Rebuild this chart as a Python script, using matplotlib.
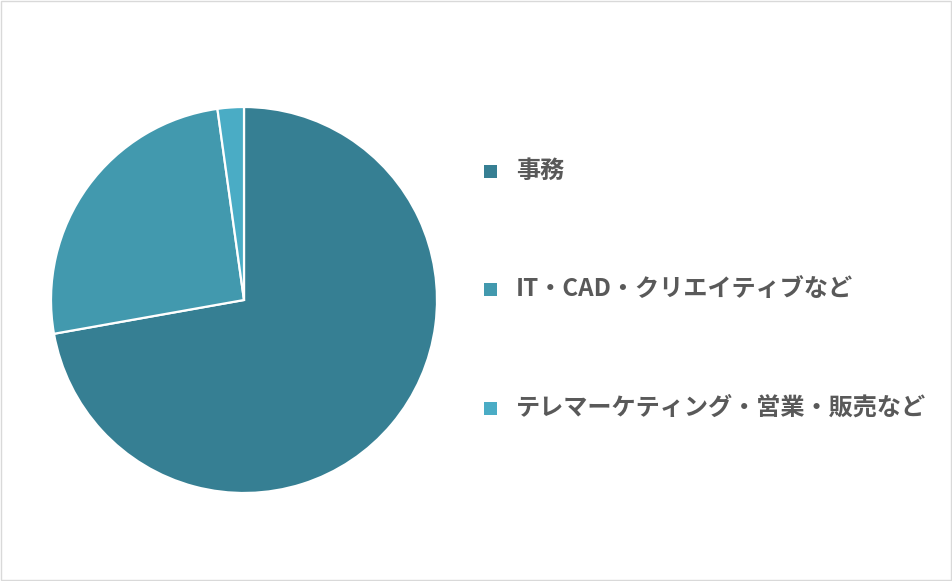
import matplotlib.pyplot as plt
import matplotlib.patches as mpatches

plt.rcParams['font.family'] = ['Noto Sans CJK JP', 'DejaVu Sans']

# 職種別の割合 (%)
labels = ['事務', 'IT・CAD・クリエイティブなど', 'テレマーケティング・営業・販売など']
values = [72.2, 25.6, 2.2]
colors = ['#367f93', '#4299ae', '#4aacc5']

W, H = 952, 581
fig = plt.figure(figsize=(W / 100, H / 100), dpi=100)

# 外枠
fig.patches.append(mpatches.Rectangle((0.001, 0.001), 0.998, 0.997, transform=fig.transFigure,
                                      fill=False, edgecolor='#d9d9d9', linewidth=1))

ax = fig.add_axes([51 / W, 1 - 493 / H, 386 / W, 386 / H])
ax.pie(values, colors=colors, startangle=90, counterclock=False, radius=1,
       wedgeprops=dict(edgecolor='white', linewidth=1.6))
ax.set_xlim(-1, 1)
ax.set_ylim(-1, 1)
ax.set_aspect('equal')

# 凡例 (手動配置)
for i, (lab, c) in enumerate(zip(labels, colors)):
    yc = 1 - (171 + 118.5 * i) / H
    fig.patches.append(mpatches.Rectangle((484 / W, yc - 6.5 / H), 13 / W, 13 / H,
                                          transform=fig.transFigure, facecolor=c,
                                          edgecolor='none'))
    fig.text(516 / W, yc, lab, fontsize=17.4, fontweight='bold', color='#595959',
             va='center', ha='left')

fig.savefig('out.png', dpi=100)
